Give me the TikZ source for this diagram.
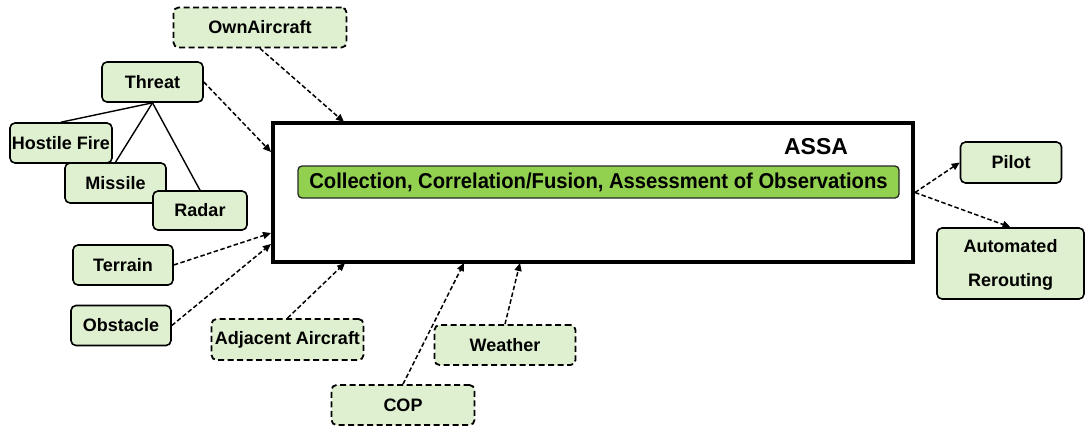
\documentclass[tikz,border=0pt]{standalone}
\usepackage{fontspec}
\setmainfont{Liberation Sans}
\usetikzlibrary{arrows.meta}
\definecolor{paleGreen}{HTML}{DFF0D0}
\definecolor{limeGreen}{HTML}{92D050}
\tikzset{
  x=1pt, y=-1pt,
  item/.style={draw=black, fill=paleGreen, rounded corners=5pt, line width=1.6pt,
    minimum height=40pt, inner sep=0pt, align=center,
    font=\fontsize{18}{21}\selectfont\bfseries},
  extitem/.style={item, line width=1.8pt, dash pattern=on 6pt off 3.5pt},
  feed/.style={dash pattern=on 4.5pt off 2.5pt, line width=1.5pt,
    -{Triangle[length=8pt,width=7pt]}},
  branch/.style={line width=1.4pt},
}
\begin{document}
\begin{tikzpicture}
\path[use as bounding box] (0,0) rectangle (1085,429);

% central assessment block
\node[draw, line width=4pt, minimum width=640pt, minimum height=139pt, inner sep=0pt] (assa) at (593,192.5) {};
\node[font=\fontsize{23}{26}\selectfont\bfseries] (assalabel) at (816,147) {ASSA};
\node[draw=black!85, fill=limeGreen, rounded corners=4pt, line width=1.3pt,
      minimum width=601pt, minimum height=32pt, inner sep=0pt,
      font=\fontsize{21.5}{23}\selectfont\bfseries] (collect) at (598.5,182)
      {\scalebox{0.94}[1]{Collection, Correlation/Fusion, Assessment of Observations}};

% threat hierarchy
\node[item, minimum width=101pt] (threat) at (152.5,82) {Threat};
\node[item, minimum width=102pt] (hostile) at (61,143) {Hostile Fire};
\node[item, minimum width=101pt] (missile) at (115.5,183) {Missile};
\node[item, minimum width=94pt, minimum height=39pt] (radar) at (200,210.5) {Radar};
\draw[branch] (threat.south) -- (hostile.north);
\draw[branch] (threat.south) -- (missile.north);
\draw[branch] (threat.south) -- (radar.north);

% other inputs
\node[extitem, minimum width=173pt] (own) at (260,27.5) {OwnAircraft};
\node[item, minimum width=100pt] (terrain) at (123,265) {Terrain};
\node[item, minimum width=100pt] (obstacle) at (121,325.5) {Obstacle};
\node[extitem, minimum width=152pt, minimum height=41pt] (adj) at (287.5,339.5) {Adjacent Aircraft};
\node[extitem, minimum width=143pt] (cop) at (403,405) {COP};
\node[extitem, minimum width=141pt] (weather) at (505,345) {Weather};

% outputs
\node[item, minimum width=101pt, minimum height=41pt] (pilot) at (1011,162.5) {Pilot};
\node[item, minimum width=147pt, minimum height=71pt] (auto) at (1010.5,263.5)
  {\rule{0pt}{15pt}Automated\\[13pt]Rerouting};

% arrival points on the block border
\coordinate (inOwn) at (344,122);
\coordinate (inThreat) at (271,152);
\coordinate (inTerrain) at (271,233);
\coordinate (inObstacle) at (271,244);
\coordinate (inAdj) at (345,263);
\coordinate (inCop) at (464,263);
\coordinate (inWeather) at (520,263);

\draw[feed] (own.south) -- (inOwn);
\draw[feed] (threat.east) -- (inThreat);
\draw[feed] (terrain.east) -- (inTerrain);
\draw[feed] (obstacle.east) -- (inObstacle);
\draw[feed] (adj.north) -- (inAdj);
\draw[feed] (cop.north) -- (inCop);
\draw[feed] (weather.north) -- (inWeather);
\draw[feed] (assa.east) -- (pilot.west);
\draw[feed] (assa.east) -- (auto.north);
\end{tikzpicture}
\end{document}
